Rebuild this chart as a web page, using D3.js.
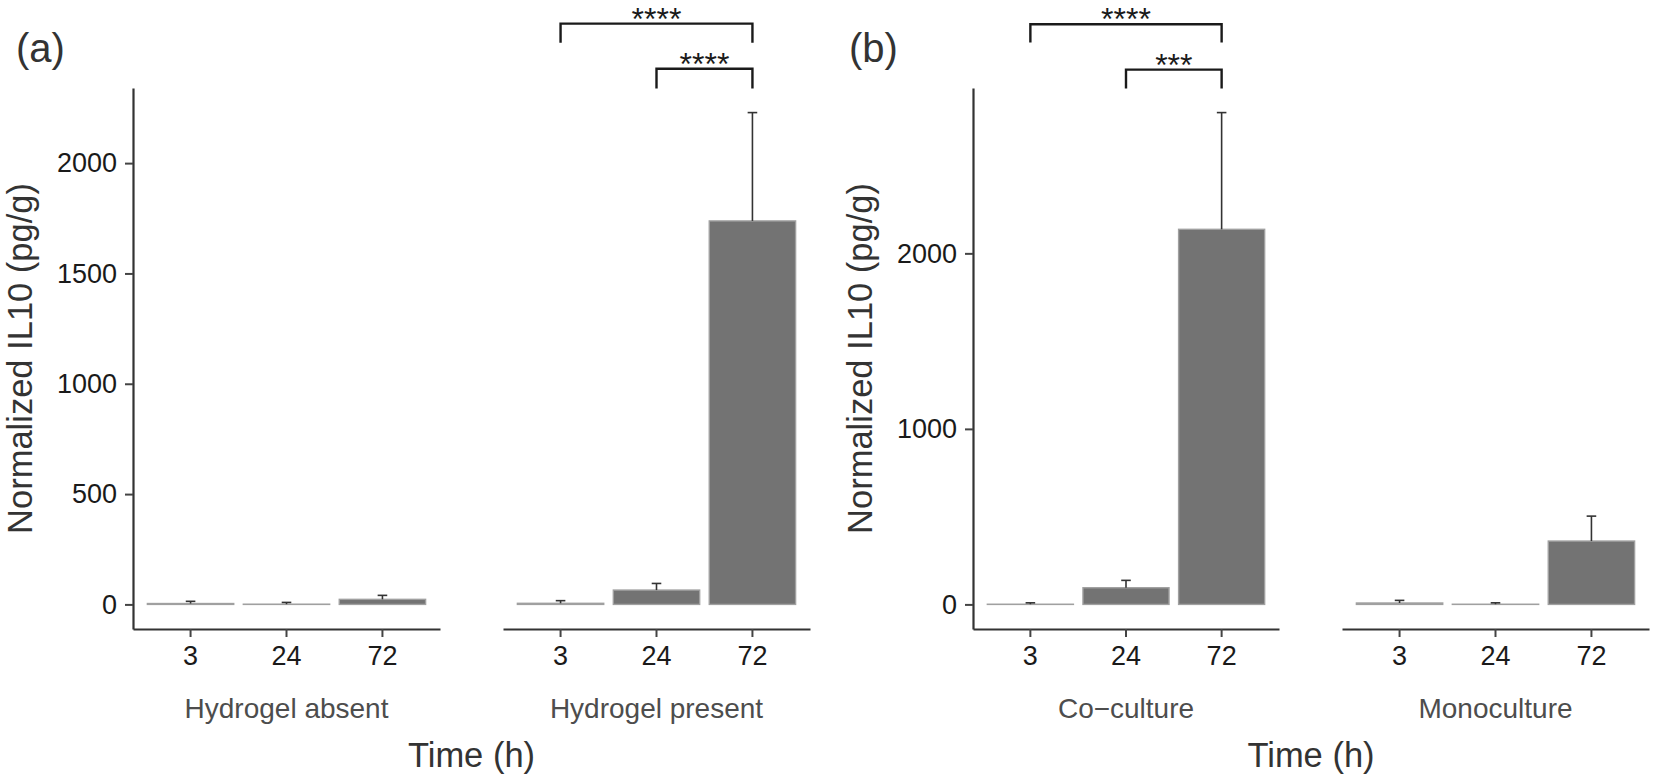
<!DOCTYPE html>
<html>
<head>
<meta charset="utf-8">
<script src="https://cdn.jsdelivr.net/npm/d3@7"></script>
<style>
  html, body { margin: 0; padding: 0; background: #fff; }
  svg { display: block; }
  text { font-family: "Liberation Sans", Arial, Helvetica, sans-serif; }
</style>
</head>
<body>
<svg id="chart" width="1656" height="781"></svg>
<script>
// ---------------- data ----------------
const times = ["3", "24", "72"];

const facetsA = ["Hydrogel absent", "Hydrogel present"];
const meanHydrogelAbsent  = [4, 1, 23];
const errHydrogelAbsent   = [10, 8, 18];
const meanHydrogelPresent = [5, 65, 1738];
const errHydrogelPresent  = [12, 30, 491];
const ticksA = [0, 500, 1000, 1500, 2000];

const facetsB = ["Co\u2212culture", "Monoculture"];
const meanCoculture   = [1, 95, 2137];
const errCoculture    = [8, 42, 665];
const meanMonoculture = [8, 1, 361];
const errMonoculture  = [15, 8, 142];
const ticksB = [0, 1000, 2000];

// significance brackets (facet index, from time, to time, bracket level, tip length, label)
const bracketFacetA = [1, 1];
const bracketFromA  = ["3", "24"];
const bracketToA    = ["72", "72"];
const bracketLevelA = [2632, 2428];
const bracketTipA   = [86, 90];
const bracketLabelA = ["****", "****"];

const bracketFacetB = [0, 0];
const bracketFromB  = ["3", "24"];
const bracketToB    = ["72", "72"];
const bracketLevelB = [3305, 3047];
const bracketTipB   = [104, 108];
const bracketLabelB = ["****", "***"];

// ---------------- drawing ----------------
const svg = d3.select("#chart");
const TOP = 88, BOTTOM = 629;

function drawFigure(cfg) {
  const g = svg.append("g");
  const maxV = d3.max(cfg.means.flatMap((m, i) => m.map((v, j) => v + cfg.errs[i][j])));
  const y = d3.scaleLinear().domain([-0.05 * maxV, 1.05 * maxV]).range([BOTTOM, TOP]);

  const xs = cfg.facetRanges.map(r =>
    d3.scaleBand().domain(times).range(r).paddingInner(0.1).paddingOuter(0.15));

  // y axis
  const yAx = g.append("g")
    .attr("transform", `translate(${cfg.facetRanges[0][0]},0)`)
    .call(d3.axisLeft(y).tickValues(cfg.ticks).tickSize(8).tickSizeOuter(0).tickPadding(8).tickFormat(d3.format("d")));
  yAx.select(".domain").attr("stroke", "#333").attr("stroke-width", 2.2);
  yAx.selectAll(".tick line").attr("stroke", "#444").attr("stroke-width", 2);
  yAx.selectAll(".tick text").attr("font-size", 27).attr("fill", "#1a1a1a")
     .attr("font-family", "Liberation Sans, Arial, sans-serif");

  cfg.facetNames.forEach((name, fi) => {
    const x = xs[fi];
    const fg = g.append("g");
    const bw = x.bandwidth();
    const data = times.map((t, j) => ({ t, m: cfg.means[fi][j], e: cfg.errs[fi][j] }));

    // bars
    fg.selectAll("rect.bar").data(data).join("rect")
      .attr("class", "bar")
      .attr("x", d => x(d.t))
      .attr("width", bw)
      .attr("y", d => y(d.m))
      .attr("height", d => Math.max(0, y(0) - y(d.m)))
      .attr("fill", "#737373")
      .attr("stroke", "#a0a0a0")
      .attr("stroke-width", 1.4);

    // error bars (upper)
    const capW = x.step() * 0.1;
    fg.selectAll("line.err").data(data).join("line")
      .attr("class", "err")
      .attr("x1", d => x(d.t) + bw / 2).attr("x2", d => x(d.t) + bw / 2)
      .attr("y1", d => y(d.m)).attr("y2", d => y(d.m + d.e))
      .attr("stroke", "#333").attr("stroke-width", 1.6);
    fg.selectAll("line.cap").data(data).join("line")
      .attr("class", "cap")
      .attr("x1", d => x(d.t) + bw / 2 - capW / 2).attr("x2", d => x(d.t) + bw / 2 + capW / 2)
      .attr("y1", d => y(d.m + d.e)).attr("y2", d => y(d.m + d.e))
      .attr("stroke", "#333").attr("stroke-width", 1.6);

    // x axis
    const xAx = fg.append("g")
      .attr("transform", `translate(0,${BOTTOM})`)
      .call(d3.axisBottom(x).tickSize(8).tickSizeOuter(0).tickPadding(9));
    xAx.select(".domain").attr("stroke", "#333").attr("stroke-width", 2.2);
    xAx.selectAll(".tick line").attr("stroke", "#444").attr("stroke-width", 2);
    xAx.selectAll(".tick text").attr("font-size", 27).attr("fill", "#1a1a1a")
       .attr("font-family", "Liberation Sans, Arial, sans-serif");

    // facet (strip) label below
    fg.append("text")
      .attr("x", x("24") + bw / 2)
      .attr("y", 718)
      .attr("text-anchor", "middle")
      .attr("font-size", 28)
      .attr("fill", "#4d4d4d")
      .text(name);
  });

  // brackets
  cfg.bFacet.forEach((fi, k) => {
    const x = xs[fi];
    const x1 = x(cfg.bFrom[k]) + x.bandwidth() / 2;
    const x2 = x(cfg.bTo[k]) + x.bandwidth() / 2;
    const yl = y(cfg.bLevel[k]);
    const yt = y(cfg.bLevel[k] - cfg.bTip[k]);
    g.append("path")
      .attr("d", `M${x1},${yt}V${yl}H${x2}V${yt}`)
      .attr("fill", "none").attr("stroke", "#1a1a1a").attr("stroke-width", 2.4);
    g.append("text")
      .attr("x", (x1 + x2) / 2)
      .attr("y", yl + 6)
      .attr("text-anchor", "middle")
      .attr("font-size", 32)
      .attr("fill", "#1a1a1a")
      .text(cfg.bLabel[k]);
  });

  // axis titles
  const xLeft = cfg.facetRanges[0][0];
  const xRight = cfg.facetRanges[1][1];
  g.append("text")
    .attr("transform", `translate(${xLeft - 101},${(TOP + BOTTOM) / 2}) rotate(-90)`)
    .attr("text-anchor", "middle")
    .attr("font-size", 34.5)
    .attr("fill", "#333")
    .text("Normalized IL10 (pg/g)");
  g.append("text")
    .attr("x", (xLeft + xRight) / 2)
    .attr("y", 767)
    .attr("text-anchor", "middle")
    .attr("font-size", 34.5)
    .attr("fill", "#333")
    .text("Time (h)");

  // panel tag
  g.append("text")
    .attr("x", cfg.tagX)
    .attr("y", 62)
    .attr("font-size", 40)
    .attr("fill", "#333")
    .text(cfg.tag);
}

drawFigure({
  tag: "(a)", tagX: 16,
  facetNames: facetsA,
  facetRanges: [[133, 440], [503, 810]],
  means: [meanHydrogelAbsent, meanHydrogelPresent],
  errs: [errHydrogelAbsent, errHydrogelPresent],
  ticks: ticksA,
  bFacet: bracketFacetA, bFrom: bracketFromA, bTo: bracketToA,
  bLevel: bracketLevelA, bTip: bracketTipA, bLabel: bracketLabelA
});

drawFigure({
  tag: "(b)", tagX: 849,
  facetNames: facetsB,
  facetRanges: [[973, 1279], [1342, 1649]],
  means: [meanCoculture, meanMonoculture],
  errs: [errCoculture, errMonoculture],
  ticks: ticksB,
  bFacet: bracketFacetB, bFrom: bracketFromB, bTo: bracketToB,
  bLevel: bracketLevelB, bTip: bracketTipB, bLabel: bracketLabelB
});
</script>
</body>
</html>
